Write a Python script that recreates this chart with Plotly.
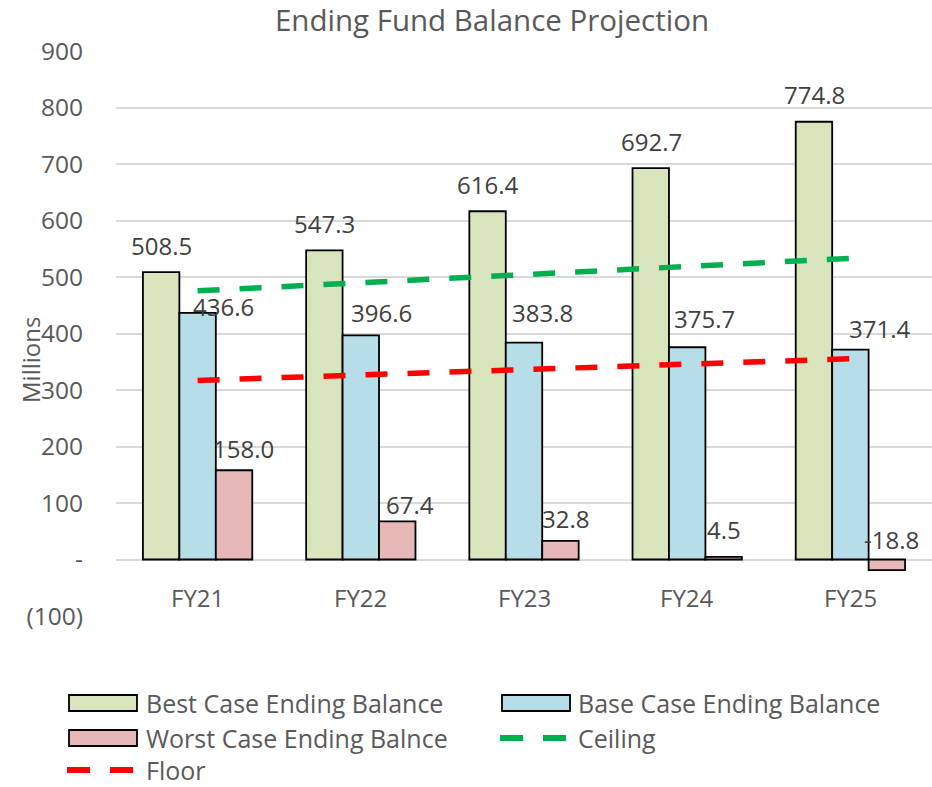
import plotly.graph_objects as go

# ---------------- data ----------------
categories = ["FY21", "FY22", "FY23", "FY24", "FY25"]
best_case = [508.5, 547.3, 616.4, 692.7, 774.8]
base_case = [436.6, 396.6, 383.8, 375.7, 371.4]
worst_case = [158.0, 67.4, 32.8, 4.5, -18.8]
ceiling = [475.5, 490.0, 504.0, 518.5, 533.0]
floor_vals = [317.0, 326.7, 336.0, 345.7, 355.3]

bar_names = ["Best Case Ending Balance", "Base Case Ending Balance", "Worst Case Ending Balnce"]
line_names = ["Ceiling", "Floor"]
y_tick_vals = [-100, 0, 100, 200, 300, 400, 500, 600, 700, 800, 900]
y_tick_text = ["(100)", "-", "100", "200", "300", "400", "500", "600", "700", "800", "900"]
title_text = "Ending Fund Balance Projection"
y_title = "Millions"

# ---------------- style ----------------
W, H = 932, 787
ML, MR, MT, MB = 116, 0, 51, 171
FONT = "Open Sans"
TXT = "#595959"
LBL = "#404040"
bar_colors = ["#D8E4BC", "#B7DDE8", "#E6B9B8"]
line_colors = ["#00B050", "#FF0000"]
DASH = "22px,20px"
BARGAP = 0.33

# label offsets (xshift, yshift) in px, per series / category
label_shifts = [
    [(0, 27), (0, 27), (0, 27), (1, 27), (1, 27)],
    [(26, 6), (21, 23), (18, 30), (17, 29), (29, 21)],
    [(9, 22), (13, 17), (5, 22), (0, 27), (5, 31)],
]

plot_w = W - ML - MR
plot_h = H - MT - MB
cat_w = plot_w / len(categories)
bar_w = cat_w * (1 - BARGAP) / 3
bar_offsets = [-bar_w, 0, bar_w]


def px_x(px):
    return (px - ML) / plot_w


def px_y(py):
    return (H - MB - py) / plot_h


fig = go.Figure()
series = [best_case, base_case, worst_case]
for name, vals, col in zip(bar_names, series, bar_colors):
    fig.add_trace(go.Bar(
        x=categories, y=vals, name=name,
        marker=dict(color=col, line=dict(color="#000000", width=1.8)),
        showlegend=False, hoverinfo="y",
    ))

for name, vals, col in zip(line_names, [ceiling, floor_vals], line_colors):
    fig.add_trace(go.Scatter(
        x=categories, y=vals, name=name, mode="lines",
        line=dict(color=col, width=5.5, dash=DASH),
        showlegend=False,
    ))

annotations = []
# data labels
for si, vals in enumerate(series):
    for ci, (cat, v) in enumerate(zip(categories, vals)):
        dx, dy = label_shifts[si][ci]
        annotations.append(dict(
            x=cat, y=v, xref="x", yref="y", text=f"{v:.1f}",
            showarrow=False, xanchor="center", yanchor="middle",
            xshift=bar_offsets[si] + dx, yshift=dy,
            font=dict(family=FONT, size=24, color=LBL),
        ))

# category labels (between 0 and -100 lines)
for cat in categories:
    annotations.append(dict(
        x=cat, y=-100, xref="x", yref="y", text=cat, showarrow=False,
        xanchor="center", yanchor="middle", yshift=19,
        font=dict(family=FONT, size=24, color=TXT),
    ))

# y-axis title
annotations.append(dict(
    x=px_x(30), y=px_y(360), xref="paper", yref="paper", text=y_title,
    textangle=-90, showarrow=False, xanchor="center", yanchor="middle",
    font=dict(family=FONT, size=24, color=TXT),
))

# manual legend
shapes = []
legend_items = [
    ("bar", 0, 69, 137, 144, 703),
    ("bar", 1, 502, 570, 576, 703),
    ("bar", 2, 69, 137, 144, 738),
    ("line", 0, 500, 570, 576, 738),
    ("line", 1, 67, 137, 144, 770),
]
for kind, idx, x0, x1, tx, yc in legend_items:
    if kind == "bar":
        shapes.append(dict(
            type="rect", xref="paper", yref="paper",
            x0=px_x(x0), x1=px_x(x1), y0=px_y(yc - 8), y1=px_y(yc + 8),
            fillcolor=bar_colors[idx], line=dict(color="#000000", width=1.8),
        ))
        label = bar_names[idx]
    else:
        shapes.append(dict(
            type="line", xref="paper", yref="paper",
            x0=px_x(x0), x1=px_x(x1), y0=px_y(yc), y1=px_y(yc),
            line=dict(color=line_colors[idx], width=6, dash="23px,20px"),
        ))
        label = line_names[idx]
    annotations.append(dict(
        x=px_x(tx), y=px_y(yc), xref="paper", yref="paper", text=label,
        showarrow=False, xanchor="left", yanchor="middle",
        font=dict(family=FONT, size=25, color=TXT),
    ))

fig.update_layout(
    width=W, height=H,
    margin=dict(l=ML, r=MR, t=MT, b=MB),
    paper_bgcolor="white", plot_bgcolor="white",
    font=dict(family=FONT, color=TXT),
    barmode="group", bargap=BARGAP, bargroupgap=0,
    title=dict(
        text=title_text, x=492 / W, xanchor="center", xref="container",
        y=1 - 21 / H, yanchor="middle", yref="container",
        font=dict(family=FONT, size=29.5, color=TXT),
    ),
    xaxis=dict(
        type="category", range=[-0.5, 4.5], showgrid=False,
        showticklabels=False, showline=False, zeroline=False, ticks="",
    ),
    yaxis=dict(
        range=[-100, 900], tickvals=y_tick_vals, ticktext=y_tick_text,
        showgrid=True, gridcolor="#D9D9D9", gridwidth=1.5,
        zeroline=True, zerolinecolor="#D9D9D9", zerolinewidth=1.5,
        showline=False, ticks="", ticklabelstandoff=32,
        tickfont=dict(family=FONT, size=24.5, color=TXT),
    ),
    annotations=annotations,
    shapes=shapes,
)

fig.write_html(
    "out.html",
    config={"displayModeBar": False},
    post_script="document.body.style.margin='0';document.body.style.padding='0';",
)
